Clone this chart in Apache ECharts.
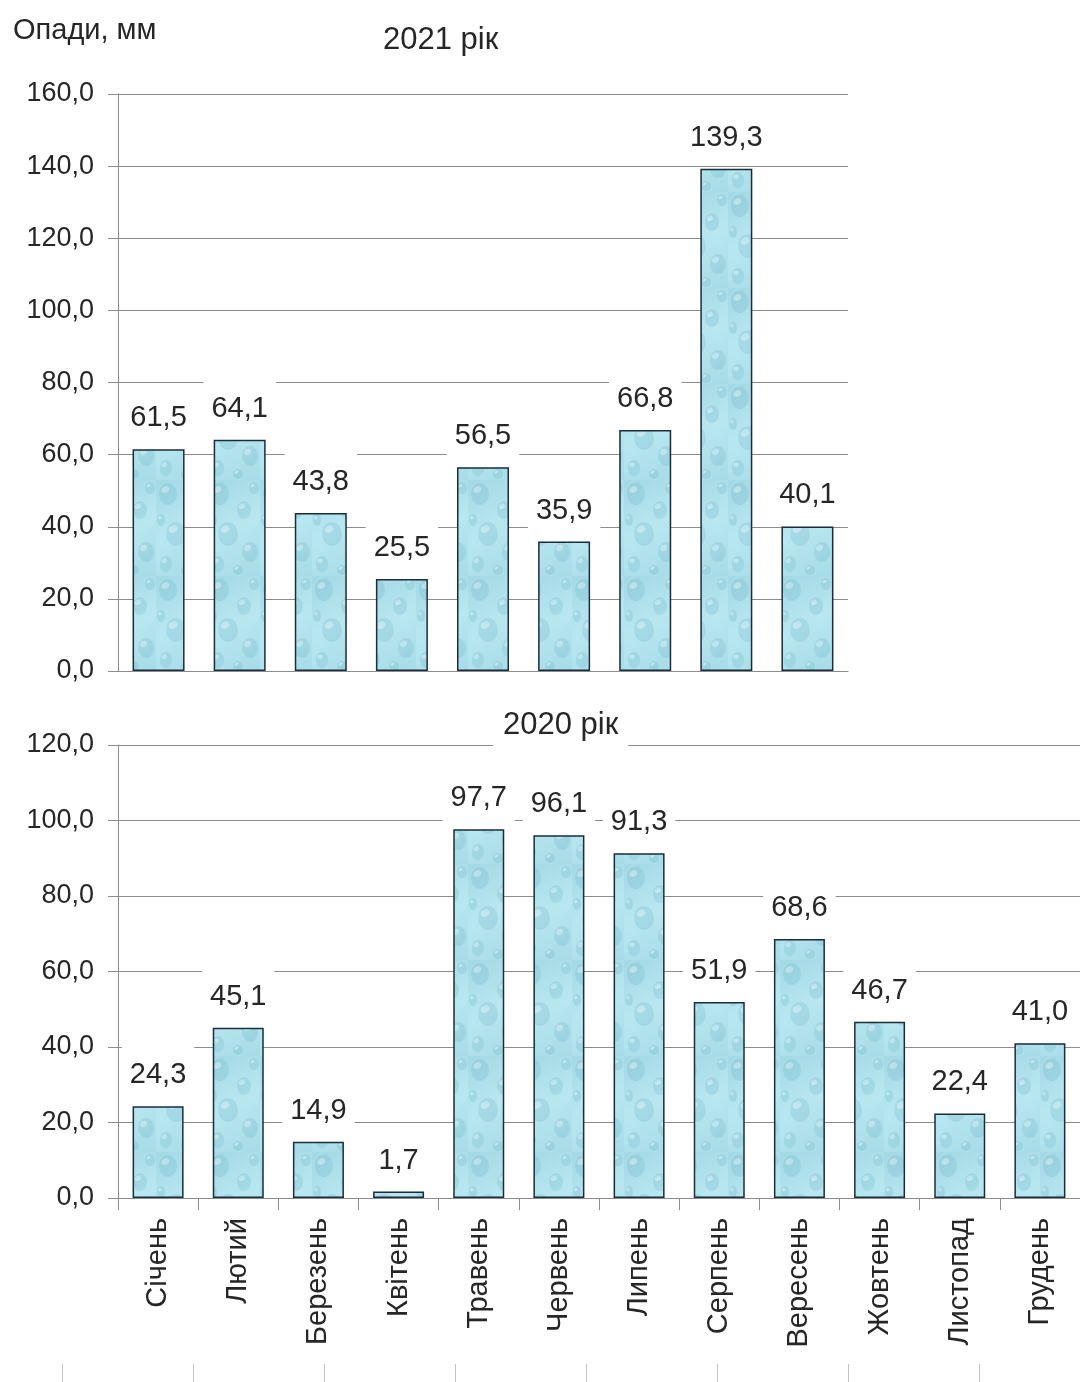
<!DOCTYPE html>
<html>
<head>
<meta charset="utf-8">
<script src="https://cdn.jsdelivr.net/npm/echarts@6/dist/echarts.min.js"></script>
<style>
  html, body { margin: 0; padding: 0; background: #fff; }
  #chart { width: 1080px; height: 1382px; }
</style>
</head>
<body>
<div id="chart"></div>
<script>
// Monthly precipitation, mm
const months = ['Січень', 'Лютий', 'Березень', 'Квітень', 'Травень', 'Червень',
                'Липень', 'Серпень', 'Вересень', 'Жовтень', 'Листопад', 'Грудень'];
const months2021 = months.slice(0, 9);
const precip2021 = [61.5, 64.1, 43.8, 25.5, 56.5, 35.9, 66.8, 139.3, 40.1];
const precip2020 = [24.3, 45.1, 14.9, 1.7, 97.7, 96.1, 91.3, 51.9, 68.6, 46.7, 22.4, 41.0];
const yTicks2021 = [0, 20, 40, 60, 80, 100, 120, 140, 160];
const yTicks2020 = [0, 20, 40, 60, 80, 100, 120];
// slots of the following panel, only its tick marks are visible
const lowerSlots = ['', '', '', '', '', '', ''];

const FONT = '"Liberation Sans", Arial, sans-serif';
const GRID_COLOR = '#8c8c8c';
const TEXT_COLOR = '#262626';

const fmt = v => Number(v).toFixed(1).replace('.', ',');

// water-drop fill for the bars
function dropTexture() {
  const c = document.createElement('canvas');
  c.width = 52; c.height = 96;
  const g = c.getContext('2d');
  const bg = g.createLinearGradient(0, 0, 52, 96);
  bg.addColorStop(0, '#a3d8e5');
  bg.addColorStop(0.5, '#b8e7f0');
  bg.addColorStop(1, '#a6dbe7');
  g.fillStyle = bg;
  g.fillRect(0, 0, 52, 96);
  const drops = [[12, 14, 9, 11], [36, 30, 7, 9], [20, 54, 10, 12], [42, 72, 8, 10],
                 [10, 84, 6, 8], [30, 90, 5, 5], [46, 8, 5, 6], [5, 40, 4, 6]];
  drops.forEach(([x, y, rx, ry]) => {
    g.beginPath();
    g.ellipse(x, y, rx, ry, 0, 0, Math.PI * 2);
    g.fillStyle = 'rgba(92,170,192,0.2)';
    g.fill();
    g.beginPath();
    g.ellipse(x - rx * 0.3, y - ry * 0.4, rx * 0.45, ry * 0.28, -0.5, 0, Math.PI * 2);
    g.fillStyle = 'rgba(255,255,255,0.35)';
    g.fill();
  });
  return c;
}
const barFill = { image: dropTexture(), repeat: 'repeat' };

const valueAxis = (idx, ticks) => ({
  type: 'value',
  gridIndex: idx,
  min: ticks[0],
  max: ticks[ticks.length - 1],
  interval: ticks[1] - ticks[0],
  axisLine: { show: true, lineStyle: { color: GRID_COLOR, width: 1 } },
  axisTick: { show: true, length: 10, lineStyle: { color: GRID_COLOR } },
  splitLine: { show: true, lineStyle: { color: GRID_COLOR, width: 1 } },
  axisLabel: { margin: 24, formatter: fmt, color: TEXT_COLOR, fontFamily: FONT, fontSize: 27 }
});

const barLabel = {
  show: true,
  position: 'top',
  distance: 8,
  formatter: p => fmt(p.value),
  color: TEXT_COLOR,
  fontFamily: FONT,
  fontSize: 29,
  lineHeight: 32,
  backgroundColor: '#fff',
  padding: [14, 8, 7, 8]
};

const barStyle = { color: barFill, borderColor: '#1b2d3c', borderWidth: 1.5 };

const option = {
  backgroundColor: '#fff',
  animation: false,
  title: [
    { text: 'Опади, мм', left: 8, top: 9,
      textStyle: { fontFamily: FONT, fontSize: 29, fontWeight: 'normal', color: TEXT_COLOR, lineHeight: 34 } },
    { text: '2021 рік', left: 378, top: 17,
      textStyle: { fontFamily: FONT, fontSize: 31, fontWeight: 'normal', color: TEXT_COLOR, lineHeight: 36 } },
    { text: '2020 рік', left: 493, top: 704, backgroundColor: '#fff', padding: [2, 10],
      textStyle: { fontFamily: FONT, fontSize: 31, fontWeight: 'normal', color: TEXT_COLOR, lineHeight: 38 } }
  ],
  grid: [
    { left: 118, top: 94, width: 730, height: 577 },
    { left: 118, top: 745, width: 962, height: 453 },
    { left: 62, top: 1300, width: 917, height: 64 }
  ],
  xAxis: [
    { type: 'category', gridIndex: 0, data: months2021,
      axisLine: { lineStyle: { color: GRID_COLOR } },
      axisTick: { show: false }, axisLabel: { show: false } },
    { type: 'category', gridIndex: 1, data: months,
      axisLine: { lineStyle: { color: GRID_COLOR } },
      axisTick: { show: true, length: 12, lineStyle: { color: GRID_COLOR } },
      axisLabel: { rotate: 90, margin: 20, color: TEXT_COLOR, fontFamily: FONT, fontSize: 29 } },
    { type: 'category', gridIndex: 2, data: lowerSlots,
      axisLine: { show: false },
      axisTick: { show: true, length: 20, lineStyle: { color: '#c4c4c4' } },
      axisLabel: { show: false } }
  ],
  yAxis: [
    valueAxis(0, yTicks2021),
    valueAxis(1, yTicks2020),
    { type: 'value', gridIndex: 2, show: false }
  ],
  series: [
    { type: 'bar', xAxisIndex: 0, yAxisIndex: 0, data: precip2021, barWidth: 52,
      itemStyle: barStyle, label: barLabel, z: 3 },
    { type: 'bar', xAxisIndex: 1, yAxisIndex: 1, data: precip2020, barWidth: 51,
      itemStyle: barStyle, label: barLabel, z: 3 }
  ]
};

const chart = echarts.init(document.getElementById('chart'), null, { renderer: 'canvas' });
chart.setOption(option);
</script>
</body>
</html>
